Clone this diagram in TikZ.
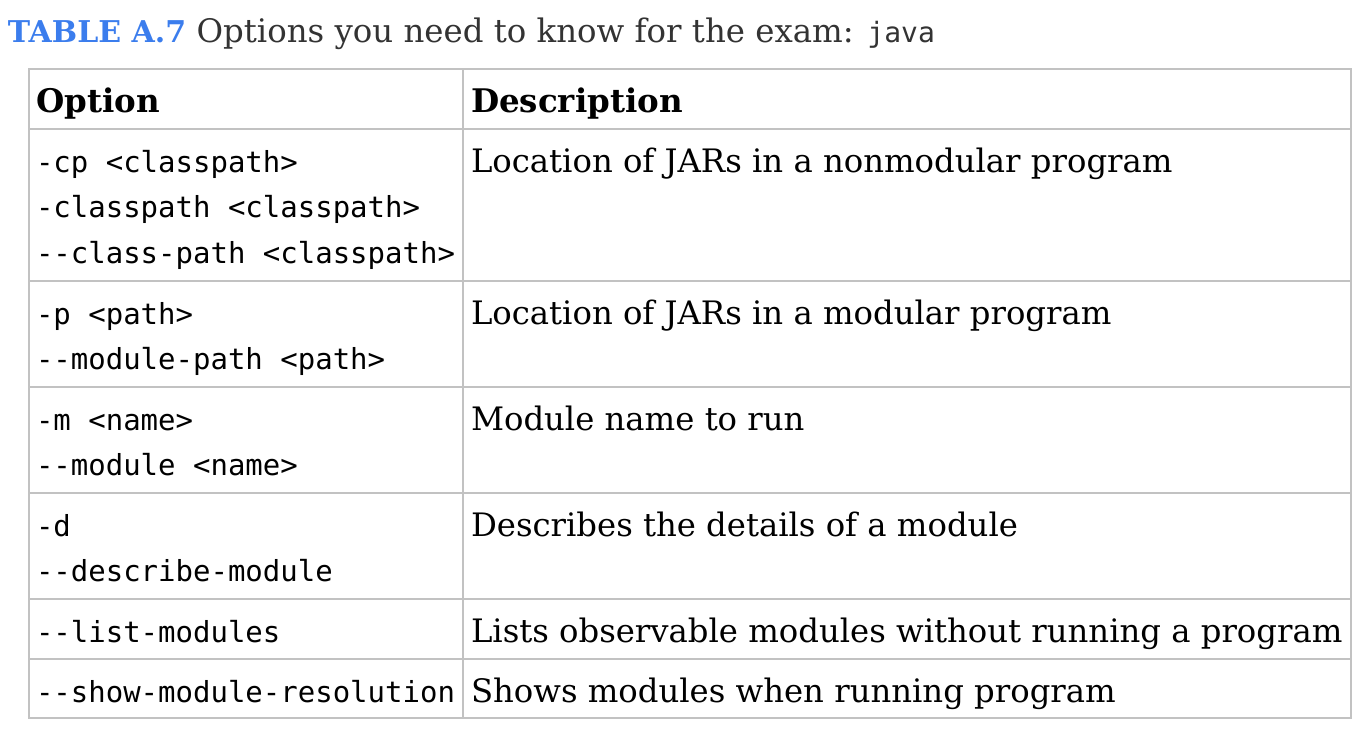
\documentclass[tikz,border=0pt]{standalone}
\usepackage{fontspec}
\setmainfont{DejaVu Serif}
\setmonofont{DejaVu Sans Mono}
\usepackage{xcolor}
\definecolor{titleblue}{HTML}{3B7DED}
\definecolor{titlegray}{HTML}{333333}
\definecolor{gridgray}{HTML}{C2C2C2}

\begin{document}
\begin{tikzpicture}[x=1pt, y=-1pt, inner sep=0pt, outer sep=0pt,
title_style/.style={anchor=base west, font=\fontsize{32.4}{38}\selectfont},
head_style/.style={anchor=base west, font=\fontsize{32.5}{38}\selectfont\bfseries},
opt_style/.style={anchor=base west, align=left, font=\fontsize{29}{45.5}\selectfont\ttfamily},
desc_style/.style={anchor=base west, font=\fontsize{32.3}{38}\selectfont},
grid_style/.style={draw=gridgray, line width=2pt}]
\useasboundingbox (0,0) rectangle (1370,740);

\node[title_style] (title) at (8,42) {\textcolor{titleblue}{\fontsize{30}{36}\selectfont\bfseries TABLE A.7} \textcolor{titlegray}{Options you need to know for the exam: {\fontsize{28}{36}\selectfont\ttfamily java}}};

% table grid
\draw[grid_style] (29,69) rectangle (1351,718);
\draw[grid_style] (463,69) -- (463,718);
\foreach \y in {129,281,387,493,599,659}
  \draw[grid_style] (29,\y) -- (1351,\y);

% header
\node[head_style] (head_opt) at (36,112) {Option};
\node[head_style] (head_desc) at (471,112) {Description};

% rows (multi-line nodes sit on their last baseline)
\node[opt_style] (opt_cp) at (36,263) {-cp <classpath>\\-classpath <classpath>\\--class-path <classpath>};
\node[desc_style] (desc_cp) at (471,172) {Location of JARs in a nonmodular program};

\node[opt_style] (opt_p) at (36,369.5) {-p <path>\\--module-path <path>};
\node[desc_style] (desc_p) at (471,324) {Location of JARs in a modular program};

\node[opt_style] (opt_m) at (36,475.5) {-m <name>\\--module <name>};
\node[desc_style] (desc_m) at (471,430) {Module name to run};

\node[opt_style] (opt_d) at (36,581.5) {-d\\--describe-module};
\node[desc_style] (desc_d) at (471,536) {Describes the details of a module};

\node[opt_style] (opt_list) at (36,642) {--list-modules};
\node[desc_style] (desc_list) at (471,642) {Lists observable modules without running a program};

\node[opt_style] (opt_show) at (36,702) {--show-module-resolution};
\node[desc_style] (desc_show) at (471,702) {Shows modules when running program};

\end{tikzpicture}
\end{document}
